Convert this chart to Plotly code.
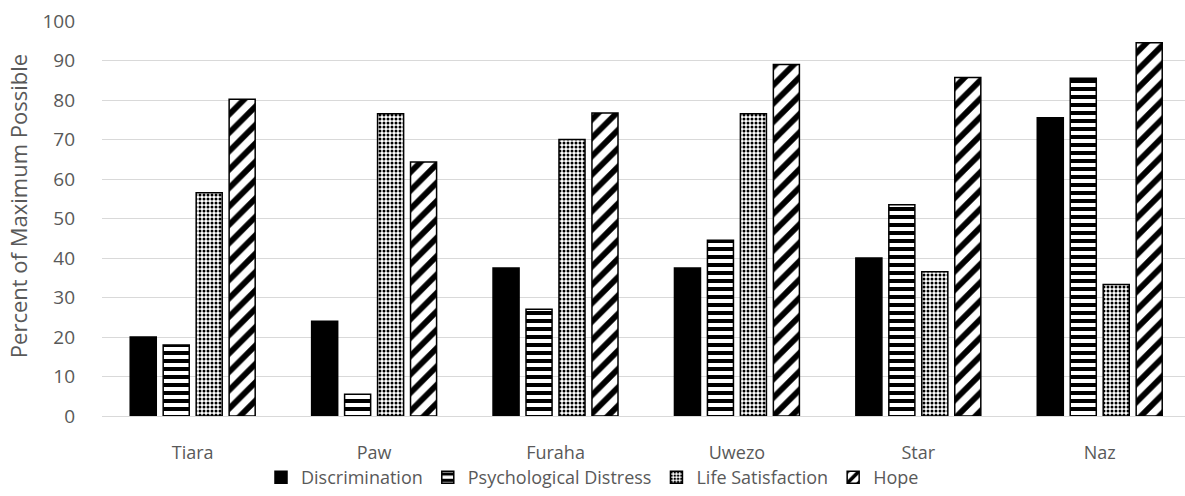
import plotly.graph_objects as go

# Groups along the category axis
groups = ["Tiara", "Paw", "Furaha", "Uwezo", "Star", "Naz"]

# Percent of maximum possible score per measure
discrimination = [20, 24, 37.5, 37.5, 40, 75.5]
psychological_distress = [18, 5.5, 27, 44.5, 53.5, 85.5]
life_satisfaction = [56.5, 76.5, 70, 76.5, 36.5, 33.3]
hope = [80.2, 64.3, 76.7, 89, 85.7, 94.5]

y_ticks = [0, 10, 20, 30, 40, 50, 60, 70, 80, 90, 100]
y_title = "Percent of Maximum Possible"

FONT = "Open Sans"
TEXT_GREY = "#595959"

series = [
    ("Discrimination", discrimination, dict(shape="", fgcolor="black", bgcolor="black")),
    ("Psychological Distress", psychological_distress,
     dict(shape="-", fgcolor="black", bgcolor="white", size=8, solidity=0.5, fgopacity=1)),
    ("Life Satisfaction", life_satisfaction,
     dict(shape=".", fgcolor="black", bgcolor="white", size=4, solidity=0.45, fgopacity=1)),
    ("Hope", hope,
     dict(shape="/", fgcolor="black", bgcolor="white", size=13, solidity=0.45, fgopacity=1)),
]

fig = go.Figure()
for name, values, pattern in series:
    fig.add_trace(go.Bar(
        name=name,
        x=groups,
        y=values,
        marker=dict(
            color="black" if pattern["shape"] == "" else "white",
            pattern=pattern,
            line=dict(color="black", width=1.5),
        ),
    ))

# Vertical axis title placed beside the tick labels
fig.add_annotation(
    text=y_title,
    textangle=-90,
    xref="paper", x=-0.078, xanchor="center",
    yref="paper", y=0.53, yanchor="middle",
    showarrow=False,
    font=dict(family=FONT, size=22, color=TEXT_GREY),
)

fig.update_layout(
    width=1185,
    height=496,
    barmode="group",
    bargap=0.273,
    bargroupgap=0.21,
    plot_bgcolor="white",
    paper_bgcolor="white",
    margin=dict(l=102, r=0, t=21, b=80, autoexpand=False),
    font=dict(family=FONT, color=TEXT_GREY, size=18),
    xaxis=dict(
        range=[-0.5, 5.47],
        showline=True,
        linecolor="#d9d9d9",
        linewidth=1,
        ticks="",
        automargin=False,
        ticklabelstandoff=20,
        tickfont=dict(size=18, color=TEXT_GREY),
    ),
    yaxis=dict(
        range=[0, 100],
        tickvals=y_ticks,
        showgrid=True,
        gridcolor="#d9d9d9",
        gridwidth=1,
        zeroline=False,
        ticks="",
        automargin=False,
        ticklabelstandoff=26,
        tickfont=dict(size=19, color=TEXT_GREY),
    ),
    legend=dict(
        orientation="h",
        xref="container",
        x=0.5,
        xanchor="center",
        yref="container",
        y=0.0,
        yanchor="bottom",
        font=dict(size=18, color=TEXT_GREY),
        itemwidth=30,
        traceorder="normal",
    ),
)

fig.write_html("out.html")
